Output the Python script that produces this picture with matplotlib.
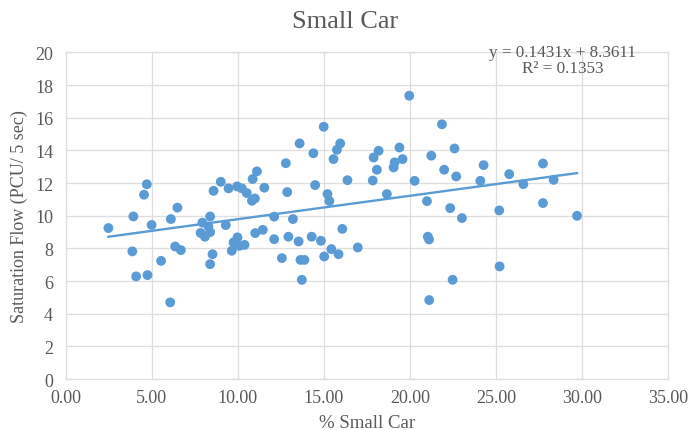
"""Scatter of saturation flow vs share of small cars, with linear trendline."""
import matplotlib
matplotlib.use("Agg")
import matplotlib.pyplot as plt
import numpy as np

# % small car in traffic stream
pct_small_car = [
    2.49, 3.94, 3.88, 4.10, 4.76, 4.56, 4.72, 5.00, 5.55, 6.12,
    6.08, 6.37, 6.70, 6.50, 7.95, 8.40, 8.30, 7.85, 8.10, 8.40,
    8.54, 8.40, 8.60, 9.02, 9.31, 9.47, 9.66, 9.76, 9.99, 10.10,
    10.40, 9.97, 10.24, 10.53, 10.83, 11.00, 10.87, 11.12, 11.02, 11.46,
    11.55, 12.12, 12.12, 12.57, 12.80, 12.88, 12.95, 13.21, 13.54, 13.65,
    13.88, 13.73, 13.60, 14.30, 14.40, 14.50, 14.84, 15.00, 15.03, 15.22,
    15.33, 15.44, 15.57, 15.77, 15.96, 15.86, 16.08, 16.38, 16.98, 17.85,
    17.90, 18.09, 18.19, 18.67, 19.06, 19.12, 19.58, 19.40, 19.97, 20.28,
    21.00, 21.05, 21.12, 21.13, 21.25, 21.87, 22.00, 22.35, 22.49, 22.60,
    22.70, 23.03, 24.10, 24.29, 25.20, 25.22, 25.78, 26.60, 27.74, 27.74,
    28.36, 29.72,
]
# saturation flow, PCU per 5 sec
sat_flow = [
    9.25, 9.96, 7.82, 6.29, 6.37, 11.29, 11.93, 9.44, 7.24, 9.80,
    4.70, 8.12, 7.90, 10.50, 9.58, 9.96, 9.35, 8.95, 8.72, 9.00,
    7.65, 7.04, 11.53, 12.08, 9.43, 11.68, 7.86, 8.37, 8.68, 8.16,
    8.22, 11.80, 11.68, 11.39, 10.92, 11.06, 12.25, 12.72, 8.94, 9.14,
    11.72, 8.57, 9.95, 7.41, 13.22, 11.45, 8.72, 9.80, 8.43, 7.30,
    7.30, 6.08, 14.43, 8.72, 13.83, 11.88, 8.47, 15.45, 7.51, 11.33,
    10.90, 7.96, 13.47, 14.04, 14.43, 7.65, 9.20, 12.18, 8.06, 12.16,
    13.57, 12.82, 13.98, 11.33, 12.96, 13.27, 13.47, 14.18, 17.35, 12.14,
    10.90, 8.72, 8.55, 4.84, 13.68, 15.60, 12.82, 10.47, 6.08, 14.12,
    12.41, 9.86, 12.14, 13.10, 10.33, 6.90, 12.55, 11.94, 13.20, 10.78,
    12.20, 10.00,
]
slope = 0.1431
intercept = 8.3611
r_squared = 0.1353

BLUE = "#5B9BD5"
GRID = "#DEDEDE"
TEXT = "#595959"


def main() -> None:
    plt.rcParams["font.family"] = ["Liberation Serif", "DejaVu Serif"]
    fig = plt.figure(figsize=(6.9, 4.31), dpi=100)
    ax = fig.add_axes([0.095, 0.118, 0.873, 0.758])

    ax.scatter(pct_small_car, sat_flow, s=50, color=BLUE, edgecolors="none", zorder=3)

    xs = np.array([min(pct_small_car), max(pct_small_car)])
    ax.plot(xs, slope * xs + intercept, color=BLUE, lw=1.7, zorder=2)

    ax.set_xlim(0, 35)
    ax.set_ylim(0, 20)
    ax.set_xticks(np.arange(0, 36, 5))
    ax.set_xticklabels([f"{v:.2f}" for v in np.arange(0, 36, 5)])
    ax.set_yticks(np.arange(0, 21, 2))
    ax.grid(True, color=GRID, lw=0.9)
    ax.set_axisbelow(True)
    for sp in ax.spines.values():
        sp.set_color(GRID)
        sp.set_linewidth(0.9)
    ax.tick_params(length=0, labelsize=13, colors=TEXT)
    ax.tick_params(axis="y", pad=9)
    ax.tick_params(axis="x", pad=7)

    fig.text(0.5, 0.950, "Small Car", ha="center", va="center", fontsize=19, color=TEXT)
    ax.set_xlabel("% Small Car", fontsize=13.5, color=TEXT, labelpad=6)
    ax.set_ylabel("Saturation Flow (PCU/ 5 sec)", fontsize=13, color=TEXT, labelpad=5)

    ax.text(28.9, 20.05, f"y = {slope}x + {intercept}", ha="center", va="center",
            fontsize=12.3, color=TEXT, clip_on=False)
    ax.text(28.9, 19.05, f"R² = {r_squared}", ha="center", va="center",
            fontsize=12.3, color=TEXT, clip_on=False)

    fig.savefig("out.png", dpi=100)
    plt.close(fig)


if __name__ == "__main__":
    main()
